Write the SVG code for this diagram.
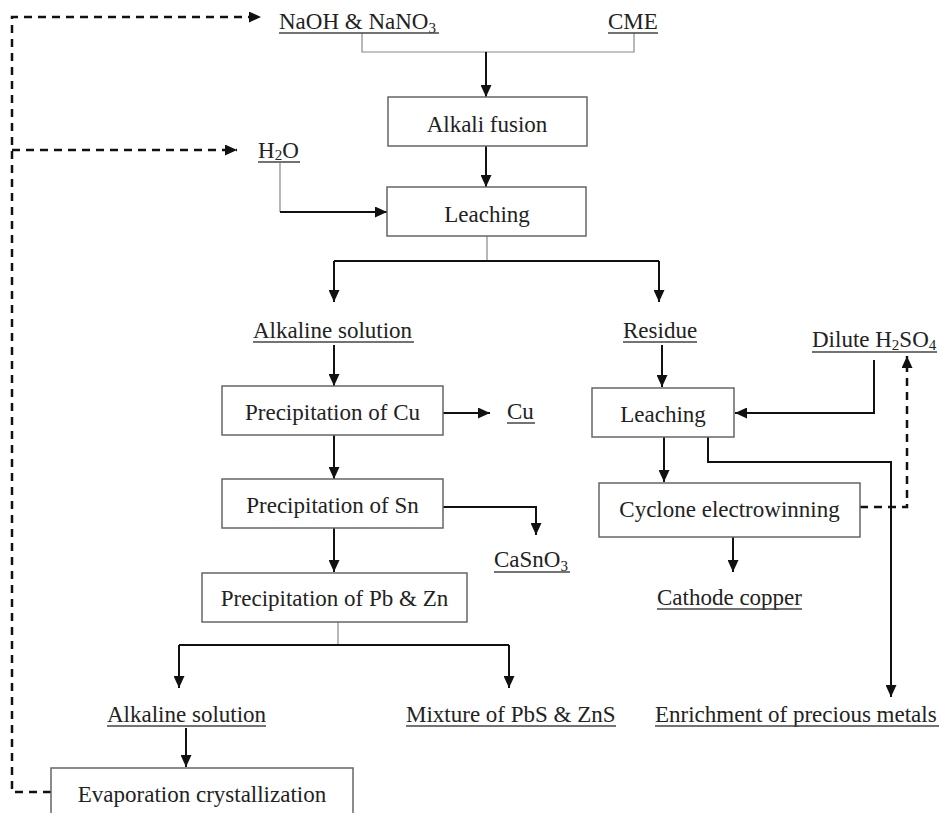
<svg xmlns="http://www.w3.org/2000/svg" width="941" height="813" viewBox="0 0 941 813">
<defs>
<style>
.box{fill:#fff;stroke:#666;stroke-width:1.5}
.t{font-family:"Liberation Serif","Times New Roman",serif;font-size:23px;fill:#222}
.m{text-anchor:middle}
.ul{stroke:#444;stroke-width:1.5}
.c{stroke:#111;stroke-width:2;fill:none}
.thin{stroke:#888;stroke-width:1.2;fill:none}
.d{stroke:#111;stroke-width:2.5;stroke-dasharray:8 6;fill:none}
</style>
<marker id="ah" viewBox="0 0 12 11" refX="12" refY="5.5" markerWidth="12" markerHeight="11" markerUnits="userSpaceOnUse" orient="auto"><path d="M0,0 L12,5.5 L0,11 z" fill="#111"/></marker>
</defs>
<rect width="941" height="813" fill="#fff"/>
<g id="connectors">
<path class="thin" d="M362,33 V52 H634 V33"/>
<path class="c" d="M486,52 V97" marker-end="url(#ah)"/>
<path class="c" d="M486,146 V187" marker-end="url(#ah)"/>
<path class="thin" d="M280,163 V212"/>
<path class="c" d="M280,212 H387" marker-end="url(#ah)"/>
<path class="thin" d="M487,236 V261"/>
<path class="c" d="M334,261 H659"/>
<path class="c" d="M334,261 V302" marker-end="url(#ah)"/>
<path class="c" d="M659,261 V302" marker-end="url(#ah)"/>
<path class="c" d="M334,345 V386" marker-end="url(#ah)"/>
<path class="c" d="M443,413 H490" marker-end="url(#ah)"/>
<path class="c" d="M334,435 V479" marker-end="url(#ah)"/>
<path class="c" d="M443,507 H536 V535" marker-end="url(#ah)"/>
<path class="c" d="M334,528 V572" marker-end="url(#ah)"/>
<path class="thin" d="M338,622 V645"/>
<path class="c" d="M179,645 H509"/>
<path class="c" d="M179,645 V688" marker-end="url(#ah)"/>
<path class="c" d="M509,645 V688" marker-end="url(#ah)"/>
<path class="c" d="M186,728 V767" marker-end="url(#ah)"/>
<path class="c" d="M662,345 V387" marker-end="url(#ah)"/>
<path class="c" d="M874,360 V413 H735" marker-end="url(#ah)"/>
<path class="c" d="M664,437 V482" marker-end="url(#ah)"/>
<path class="c" d="M708,437 V462 H891 V697" marker-end="url(#ah)"/>
<path class="d" d="M860,507 H907 V356" marker-end="url(#ah)"/>
<path class="c" d="M733,537 V572" marker-end="url(#ah)"/>
<path class="d" d="M51,792 H12 V17 H261" marker-end="url(#ah)"/>
<path class="d" d="M12,150 H237" marker-end="url(#ah)"/>
</g>
<g id="naoh"><text class="t" x="279" y="29">NaOH &amp; NaNO<tspan font-size="15" dy="4">3</tspan></text><line class="ul" x1="279" y1="33" x2="439" y2="33"/></g>
<g id="cme"><text class="t" x="608" y="29">CME</text><line class="ul" x1="608" y1="33" x2="658" y2="33"/></g>
<g id="alkali-fusion"><rect class="box" x="388" y="97" width="199" height="49"/><text class="t m" x="487" y="132">Alkali fusion</text></g>
<g id="h2o"><text class="t" x="258" y="158">H<tspan font-size="15" dy="2">2</tspan><tspan dy="-2">O</tspan></text><line class="ul" x1="258" y1="162" x2="300" y2="162"/></g>
<g id="leaching1"><rect class="box" x="387" y="187" width="199" height="49"/><text class="t m" x="487" y="222">Leaching</text></g>
<g id="alk-sol1"><text class="t" x="253" y="338">Alkaline solution</text><line class="ul" x1="253" y1="342" x2="414" y2="342"/></g>
<g id="residue"><text class="t" x="623" y="338">Residue</text><line class="ul" x1="623" y1="342" x2="697" y2="342"/></g>
<g id="dilute"><text class="t" x="812" y="347">Dilute H<tspan font-size="15" dy="3">2</tspan><tspan dy="-3">SO</tspan><tspan font-size="15" dy="3">4</tspan></text><line class="ul" x1="812" y1="352" x2="937" y2="352"/></g>
<g id="prec-cu"><rect class="box" x="222" y="386" width="221" height="49"/><text class="t m" x="332.5" y="420">Precipitation of Cu</text></g>
<g id="cu"><text class="t" x="507" y="419">Cu</text><line class="ul" x1="507" y1="423" x2="535" y2="423"/></g>
<g id="prec-sn"><rect class="box" x="222" y="479" width="221" height="49"/><text class="t m" x="332.5" y="513">Precipitation of Sn</text></g>
<g id="casno3"><text class="t" x="494" y="567">CaSnO<tspan font-size="15" dy="4">3</tspan></text><line class="ul" x1="494" y1="572" x2="570" y2="572"/></g>
<g id="prec-pbzn"><rect class="box" x="202" y="573" width="265" height="49"/><text class="t m" x="334.5" y="606">Precipitation of Pb &amp; Zn</text></g>
<g id="leaching2"><rect class="box" x="592" y="388" width="142" height="49"/><text class="t m" x="663" y="422">Leaching</text></g>
<g id="cyclone"><rect class="box" x="599" y="483" width="261" height="54"/><text class="t m" x="729.5" y="517">Cyclone electrowinning</text></g>
<g id="cathode"><text class="t" x="657" y="605">Cathode copper</text><line class="ul" x1="657" y1="609" x2="802" y2="609"/></g>
<g id="alk-sol2"><text class="t" x="107" y="722">Alkaline solution</text><line class="ul" x1="107" y1="726" x2="266" y2="726"/></g>
<g id="mixture"><text class="t" x="406" y="722">Mixture of PbS &amp; ZnS</text><line class="ul" x1="406" y1="726" x2="616" y2="726"/></g>
<g id="enrichment"><text class="t" x="655" y="722">Enrichment of precious metals</text><line class="ul" x1="655" y1="726" x2="939" y2="726"/></g>
<g id="evaporation"><rect class="box" x="51" y="768" width="302" height="60"/><text class="t m" x="202" y="802">Evaporation crystallization</text></g>
</svg>
